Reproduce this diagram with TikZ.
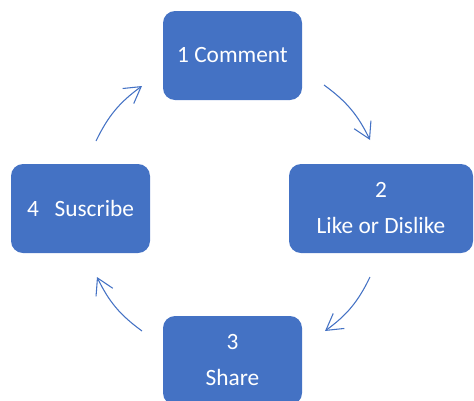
\documentclass[tikz,border=0pt]{standalone}
\usepackage{fontspec}
\setmainfont{Carlito}
\usetikzlibrary{arrows.meta}
\definecolor{boxblue}{HTML}{4472C4}
\begin{document}
\begin{tikzpicture}[x=0.75pt,y=0.75pt]
  \tikzstyle{box}=[fill=boxblue,text=white,rounded corners=9pt,minimum width=104.25pt,
                   minimum height=66.75pt,align=center,font=\fontsize{17.5}{27}\selectfont]
  \tikzstyle{cycle}=[draw=boxblue,line width=0.8pt,-{Straight Barb[length=12pt,width=14pt]},bend left=14]
  \useasboundingbox (0,0) rectangle (474,-400);
  \node[box] (comment) at (232.5,-55.5) {1 Comment};
  \node[box,minimum width=138pt] (like) at (381,-208.5) {2\\Like or Dislike};
  \node[box] (share) at (232.5,-360.5) {3\\Share};
  \node[box] (suscribe) at (80.5,-208.5) {4\ \ \ Suscribe};
  % arc ends
  \coordinate (c1s) at (324,-85);
  \coordinate (c1e) at (370,-140);
  \coordinate (c2s) at (370,-277);
  \coordinate (c2e) at (325,-331);
  \coordinate (c3s) at (142,-331);
  \coordinate (c3e) at (97,-277);
  \coordinate (c4s) at (96,-141);
  \coordinate (c4e) at (142,-86);
  \draw[cycle] (c1s) to (c1e);
  \draw[cycle] (c2s) to (c2e);
  \draw[cycle] (c3s) to (c3e);
  \draw[cycle] (c4s) to (c4e);
\end{tikzpicture}
\end{document}
